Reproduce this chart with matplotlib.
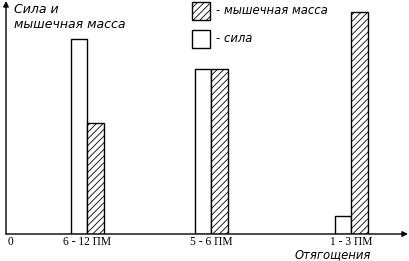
import numpy as np
import matplotlib.pyplot as plt
from matplotlib.patches import Rectangle

# данные (условные единицы)
groups = ["6 - 12 ПМ", "5 - 6 ПМ", "1 - 3 ПМ"]
sila = [19.5, 16.5, 1.8]
massa = [11.1, 16.5, 22.2]

pos = np.array([81, 205, 345])
w = 16.5

plt.rcParams['hatch.linewidth'] = 0.6

W, H = 409, 261
fig = plt.figure(figsize=(W / 100, H / 100), dpi=100)
ax = fig.add_axes([6 / W, 27 / H, 402 / W, 233 / H])
ax.set_xlim(0, 402)
ax.set_ylim(0, 23.3)

ax.bar(pos - w / 2, sila, w, color='white', edgecolor='black', lw=1)
ax.bar(pos + w / 2, massa, w, color='white', edgecolor='black', lw=1, hatch='/////')

for s in ax.spines.values():
    s.set_visible(False)
ax.set_yticks([])
ax.set_xticks([4.5] + list(pos), ['0'] + groups, family='Liberation Serif', fontsize=8.3)
ax.tick_params(axis='x', length=0, pad=1.5)

# оси со стрелками
arr = dict(arrowstyle='-|>', lw=1, color='black', mutation_scale=8, shrinkA=0, shrinkB=0)
ax.annotate('', xy=(402, 0), xytext=(0, 0), arrowprops=arr, annotation_clip=False)
ax.annotate('', xy=(0, 23.3), xytext=(0, 0), arrowprops=arr, annotation_clip=False)

fig.text(14 / W, 1 - 3 / H, "Сила и\nмышечная масса", va='top', ha='left',
         style='italic', fontsize=9, linespacing=1.2)
fig.text(371 / W, 1 - 255 / H, "Отягощения", va='center', ha='right',
         style='italic', fontsize=8.4)

# легенда
fig.add_artist(Rectangle((192 / W, 1 - 20 / H), 18 / W, 18 / H, transform=fig.transFigure,
                         facecolor='white', edgecolor='black', lw=1, hatch='/////'))
fig.add_artist(Rectangle((192 / W, 1 - 48 / H), 18 / W, 18 / H, transform=fig.transFigure,
                         facecolor='white', edgecolor='black', lw=1))
fig.text(216 / W, 1 - 11 / H, "- мышечная масса", va='center', style='italic', fontsize=8.4)
fig.text(216 / W, 1 - 38 / H, "- сила", va='center', style='italic', fontsize=8.4)

plt.savefig("out.png", dpi=100)
